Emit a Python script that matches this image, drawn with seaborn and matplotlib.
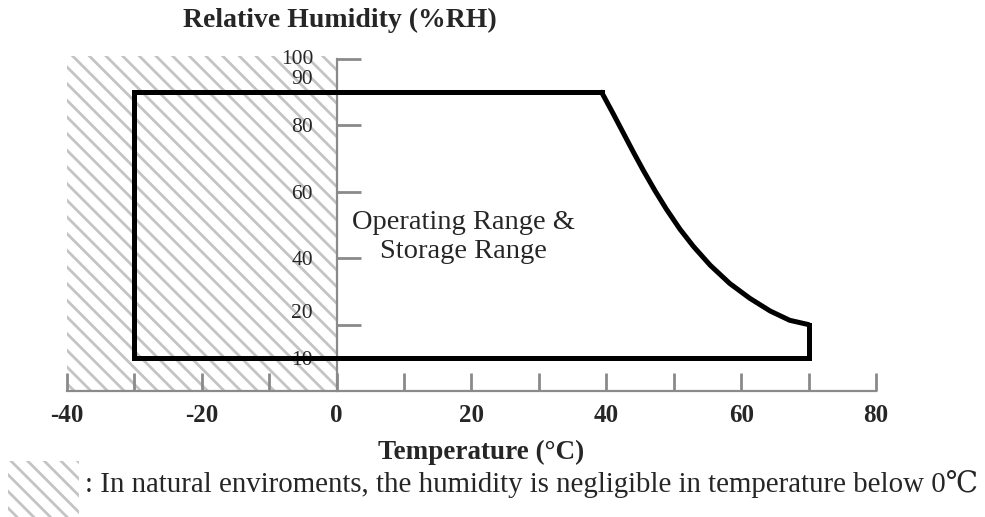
import matplotlib
matplotlib.use("Agg")
import matplotlib.pyplot as plt
from matplotlib.patches import Rectangle
import seaborn as sns

# ---- data ----
x_ticks_major = [-40, -20, 0, 20, 40, 60, 80]
x_ticks_minor = [-30, -10, 10, 30, 50, 70]
y_tick_marks = [20, 40, 60, 80, 100]
y_label_values = [100, 90, 80, 60, 40, 20, 10]
y_label_pos = [100.5, 94.5, 80, 60, 40, 24, 10]

box_temp_min = -30
box_temp_max = 70
box_rh_min = 10
box_rh_max = 90
curve_temp = [39.3, 41.0, 42.5, 44.0, 45.5, 47.2, 48.9, 50.9, 52.9, 55.4,
              58.3, 61.3, 64.3, 67.2, 70.0]
curve_rh = [90, 83.6, 77.8, 72.0, 66.4, 60.4, 54.8, 48.8, 43.6, 37.9,
            32.4, 27.9, 24.1, 21.3, 20.0]

hatch_temp = [-40, 0]
hatch_rh_top = 101

# straight part of the outline (from curve end round to curve start)
box_temp = [box_temp_max, box_temp_max, box_temp_min, box_temp_min, curve_temp[0]]
box_rh = [curve_rh[-1], box_rh_min, box_rh_min, box_rh_max, box_rh_max]

# ---- style ----
sns.set_theme(style="white")
SERIF = ["Liberation Serif", "DejaVu Serif", "DejaVu Sans"]
plt.rcParams["font.family"] = SERIF
plt.rcParams["hatch.linewidth"] = 2.0
HATCH_C = "#c4c4c4"
plt.rcParams["hatch.color"] = HATCH_C
SPINE_C = "#8a8a8a"

fig = plt.figure(figsize=(9.85, 5.17), dpi=100)
ax = fig.add_axes([67 / 985, 126 / 517, 809 / 985, 338.6 / 517])
ax.set_xlim(-40, 80)
ax.set_ylim(0, 102)

# hatched region below 0 C
ax.fill_between(hatch_temp, 0, hatch_rh_top, facecolor="none", edgecolor=HATCH_C,
                hatch="\\\\", linewidth=0, zorder=0.2)

# operating / storage range outline
sns.lineplot(x=box_temp, y=box_rh, sort=False, estimator=None, color="black",
             linewidth=3.6, ax=ax, zorder=3, solid_joinstyle="miter",
             solid_capstyle="projecting")
sns.lineplot(x=curve_temp, y=curve_rh, sort=False, estimator=None, color="black",
             linewidth=3.6, ax=ax, zorder=3, solid_joinstyle="round",
             solid_capstyle="round")

# spines
for s in ["top", "right"]:
    ax.spines[s].set_visible(False)
ax.spines["left"].set_position(("data", 0))
ax.spines["left"].set_bounds(0, 100)
for s in ["left", "bottom"]:
    ax.spines[s].set_color(SPINE_C)
    ax.spines[s].set_linewidth(1.6)
    ax.spines[s].set_zorder(2.5)

# x ticks
ax.set_xticks(x_ticks_major)
ax.set_xticklabels([str(v) for v in x_ticks_major], fontweight="bold", fontsize=18)
ax.set_xticks(x_ticks_minor, minor=True)
ax.tick_params(axis="x", which="both", direction="in", length=13, width=2,
               color=SPINE_C, pad=9, bottom=True)

# y ticks: marks as minor, labels as major (length 0)
ax.yaxis.remove_overlapping_locs = False
ax.set_yticks(y_tick_marks, minor=True)
ax.set_yticks(y_label_pos)
ax.set_yticklabels([str(v) for v in y_label_values], fontsize=15.5)
ax.tick_params(axis="y", which="minor", direction="in", length=17, width=2,
               color=SPINE_C, left=True)
ax.tick_params(axis="y", which="major", length=0, pad=17, left=True)

# labels
fig.text(340 / 985, 1 - 20 / 517, "Relative Humidity (%RH)", ha="center", va="center",
         fontsize=20, fontweight="bold")
ax.set_xlabel("Temperature (°C)", fontsize=19.5, fontweight="bold")
ax.xaxis.set_label_coords((481 - 67) / 809, (391 - 452) / 338.6)
ax.xaxis.label.set_va("center")

ax.text(18.8, 46.5, "Operating Range &\nStorage Range", ha="center", va="center",
        fontsize=20.5, linespacing=1.2)

# footnote with hatch swatch
fig.add_artist(Rectangle((8 / 985, 0), 71 / 985, 56 / 517, transform=fig.transFigure,
                         facecolor="none", edgecolor=HATCH_C, hatch="\\\\", linewidth=0))
fig.text(85 / 985, 1 - 484 / 517,
         ": In natural enviroments, the humidity is negligible in temperature below 0\u2103",
         ha="left", va="center", fontsize=20.8)

fig.savefig("out.png", dpi=100)
